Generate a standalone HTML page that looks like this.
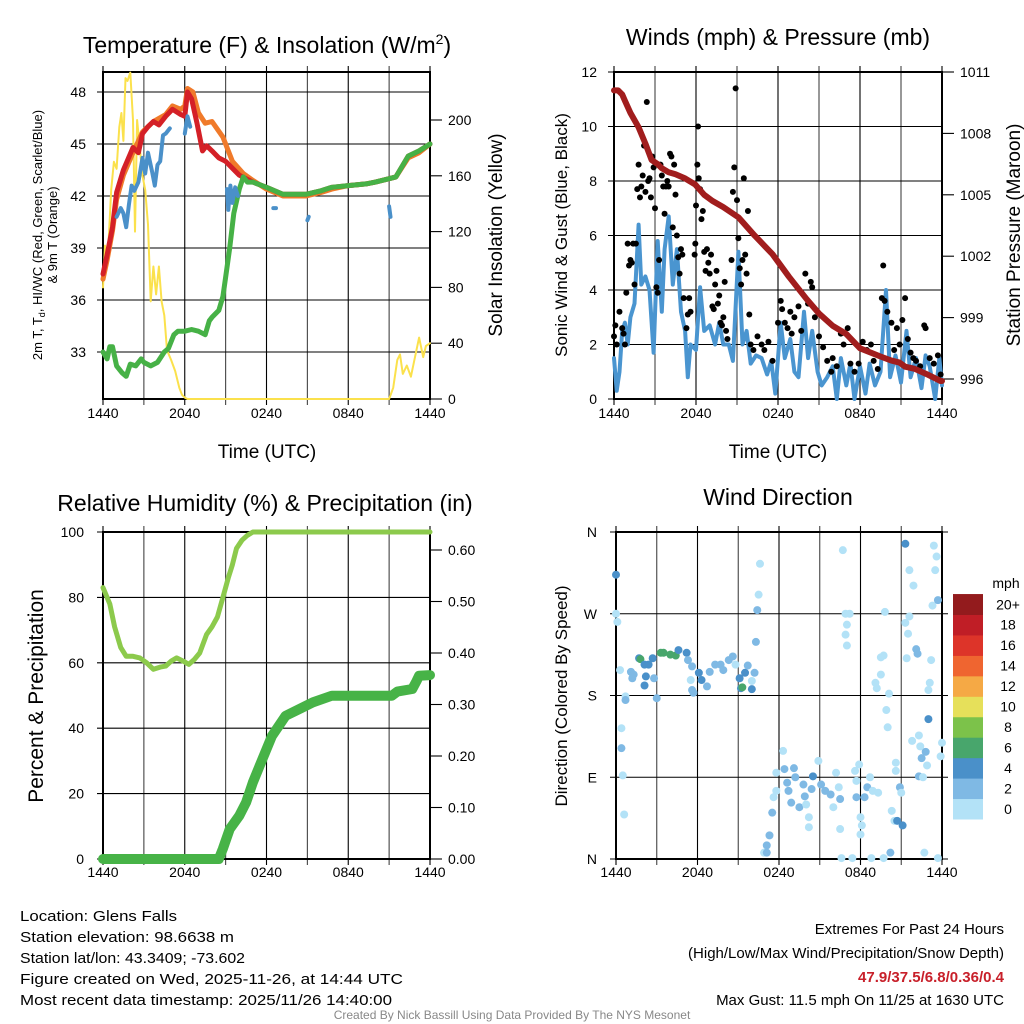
<!DOCTYPE html>
<html><head><meta charset="utf-8"><style>
html,body{margin:0;padding:0;background:#fff;}
svg{display:block;font-family:"Liberation Sans",Arial,sans-serif;}
</style></head><body>
<svg id="chart" width="1024" height="1024" viewBox="0 0 1024 1024" xmlns="http://www.w3.org/2000/svg">
<rect x="0" y="0" width="1024" height="1024" fill="#fff"/>
<text x="267" y="53" font-size="23" text-anchor="middle">Temperature (F) &amp; Insolation (W/m<tspan font-size="14" dy="-9">2</tspan><tspan dy="9">)</tspan></text>
<text x="778" y="45" font-size="23" text-anchor="middle">Winds (mph) &amp; Pressure (mb)</text>
<text x="265" y="511" font-size="23" text-anchor="middle">Relative Humidity (%) &amp; Precipitation (in)</text>
<text x="778" y="505" font-size="23" text-anchor="middle">Wind Direction</text>
<text x="267" y="458" font-size="19" text-anchor="middle">Time (UTC)</text>
<text x="778" y="458" font-size="19" text-anchor="middle">Time (UTC)</text>
<text transform="translate(42,235) rotate(-90)" font-size="13" text-anchor="middle">2m T, T<tspan font-size="9" dy="3">d</tspan><tspan dy="-3">, HI/WC (Red, Green, Scarlet/Blue)</tspan></text>
<text transform="translate(57,235) rotate(-90)" font-size="13" text-anchor="middle">&amp; 9m T (Orange)</text>
<text transform="translate(502,235) rotate(-90)" font-size="19" text-anchor="middle">Solar Insolation (Yellow)</text>
<text transform="translate(567,235) rotate(-90)" font-size="17" text-anchor="middle">Sonic Wind &amp; Gust (Blue, Black)</text>
<text transform="translate(1020,235) rotate(-90)" font-size="19" text-anchor="middle">Station Pressure (Maroon)</text>
<text transform="translate(43,696) rotate(-90)" font-size="21" text-anchor="middle">Percent &amp; Precipitation</text>
<text transform="translate(567,696) rotate(-90)" font-size="17" text-anchor="middle">Direction (Colored By Speed)</text>
<g font-size="15">
<text x="20" y="921" textLength="157" lengthAdjust="spacingAndGlyphs">Location: Glens Falls</text>
<text x="20" y="942" textLength="214" lengthAdjust="spacingAndGlyphs">Station elevation: 98.6638 m</text>
<text x="20" y="963" textLength="225" lengthAdjust="spacingAndGlyphs">Station lat/lon: 43.3409; -73.602</text>
<text x="20" y="984" textLength="383" lengthAdjust="spacingAndGlyphs">Figure created on Wed, 2025-11-26, at 14:44 UTC</text>
<text x="20" y="1005" textLength="372" lengthAdjust="spacingAndGlyphs">Most recent data timestamp: 2025/11/26 14:40:00</text>
</g>
<g font-size="15" text-anchor="end">
<text x="1004" y="934">Extremes For Past 24 Hours</text>
<text x="1004" y="958">(High/Low/Max Wind/Precipitation/Snow Depth)</text>
<text x="1004" y="982" fill="#c8202a" font-weight="bold">47.9/37.5/6.8/0.36/0.4</text>
<text x="1004" y="1005">Max Gust: 11.5 mph On 11/25 at 1630 UTC</text>
</g>
<text x="512" y="1019" font-size="12" fill="#888" text-anchor="middle">Created By Nick Bassill Using Data Provided By The NYS Mesonet</text>
</svg>
<script>
// ---------- data ----------
const xTickLabels = ["1440","2040","0240","0840","1440"];
const tempLeftTicks = [33,36,39,42,45,48];
const insolTicks = [0,40,80,120,160,200];
const windTicks = [0,2,4,6,8,10,12];
const pressTicks = [996,999,1002,1005,1008,1011];
const rhTicks = [0,20,40,60,80,100];
const precipTicks = [0.00,0.10,0.20,0.30,0.40,0.50,0.60];
const dirTicks = [0,90,180,270,360];
const dirTickLabels = ["N","E","S","W","N"];
const speedBinLabels = ["0","2","4","6","8","10","12","14","16","18","20+"];
const speedBinColors = ["#b3e2f7","#7fb9e4","#4a90c9","#48a66c","#7cc24a","#e6e05a","#f5a945","#ef6530","#dd3429","#c01e26","#931b1d"];

const tempT = [0,0.3,0.7,1.0,1.5,2.2,2.6,2.9,3.3,3.7,4.1,4.6,5.1,5.7,6.0,6.2,6.5,6.9,7.3,7.6,8.0,8.5,9.0,9.5,10,10.5,11,12,13.2,14.9,16,16.8,18,19.3,20,21,21.5,22.4,23.2,24];
const tempV = [37.5,38.6,40.2,42.2,43.5,44.8,44.5,45.6,46.0,46.3,46.1,46.6,47.0,46.7,46.6,48.0,47.6,46.2,44.6,44.9,44.6,44.2,44.0,43.6,43.2,43.0,42.8,42.5,42.1,42.1,42.3,42.5,42.6,42.7,42.8,43.0,43.1,44.3,44.6,45.0];
const t9mT = [0,0.3,0.7,1.0,1.5,2.2,2.9,3.7,4.6,5.1,5.7,6.0,6.2,6.6,7.0,7.5,8.0,8.8,9.5,10.3,11,12,13.2,14.9,16,16.8,18,19.3,20,21,21.5,22.4,23.2,24];
const t9mV = [37.2,38.3,40.0,41.8,43.2,44.5,45.7,46.3,46.7,47.2,47.0,47.2,48.2,48.0,46.8,46.2,46.3,45.4,44.0,43.3,42.9,42.4,42.0,42.0,42.2,42.4,42.6,42.7,42.8,43.0,43.1,44.2,44.5,45.0];
const dewT = [0,0.3,0.5,0.7,1.0,1.4,1.7,2.0,2.4,2.8,3.0,3.5,4.0,4.5,4.8,5.2,5.5,6.0,6.5,7.0,7.5,7.8,8.0,8.5,8.8,9.0,9.3,9.6,10.0,10.3,10.6,11,12,13.2,14.9,16,16.8,18,19.3,20,21,21.5,22.4,23.2,24];
const dewV = [33.0,32.6,33.3,33.3,32.2,31.8,31.6,32.3,32.2,32.6,32.4,32.2,32.4,33.0,33.2,34.0,34.2,34.2,34.3,34.2,34.0,34.8,35.0,35.4,36.2,37.3,39.0,41.0,42.4,43.1,42.8,42.8,42.5,42.1,42.1,42.3,42.5,42.6,42.7,42.8,43.0,43.1,44.3,44.6,45.0];
const hiT = [1.0,1.3,1.5,1.7,1.9,2.1,2.3,2.6,2.9,3.1,3.3,3.6,3.8,4.0,4.2,4.4,4.6,4.9,null,6.0,6.2,6.3,6.4,null,9.1,9.2,9.35,9.5,9.7,9.9,null,12.5,12.7,null,15.0,15.1,null,21.0,21.1];
const hiV = [40.8,41.3,41.0,40.2,41.5,42.6,42.3,42.8,44.2,43.3,44.5,43.4,42.6,43.8,44.0,45.5,45.6,45.9,null,45.6,46.6,46.3,46.0,null,42.4,41.2,42.6,41.6,42.5,42.0,null,41.3,41.3,null,40.6,40.8,null,41.4,40.8];
const insolT = [0,0.15,0.3,0.45,0.6,0.8,1.0,1.2,1.35,1.5,1.65,1.8,2.0,2.2,2.35,2.5,2.7,2.9,3.1,3.3,3.5,3.7,3.9,4.1,4.3,4.5,4.7,5.0,5.3,5.6,5.8,6.0,6.2,6.5,21,21.3,21.6,21.8,22.0,22.3,22.6,22.9,23.2,23.5,23.7,24];
const insolV = [80,110,95,120,150,170,165,195,205,185,230,228,234,200,120,200,180,160,150,125,70,95,75,95,70,60,35,28,20,8,3,1,0,0,0,8,28,32,18,24,16,30,44,30,38,40];
const windT = [0,0.2,0.4,0.6,0.8,1.0,1.2,1.5,1.8,2.0,2.3,2.6,2.9,3.2,3.5,3.7,4.0,4.3,4.6,4.9,5.2,5.4,5.6,6.0,6.3,6.6,7.0,7.4,7.7,8.0,8.4,8.7,9.1,9.4,9.7,10.0,10.4,10.8,11.2,11.5,11.8,12.2,12.5,12.9,13.2,13.5,13.9,14.2,14.5,14.9,15.2,15.6,16.0,16.3,16.6,17.0,17.3,17.6,18.0,18.4,18.7,19.1,19.5,19.9,20.2,20.6,21.0,21.4,21.7,22.1,22.5,22.8,23.1,23.5,23.8,24];
const windV = [1.5,0.3,1.0,2.5,2.8,2.0,3.0,3.5,6.4,4.2,4.5,4.0,1.7,5.8,3.2,5.5,6.7,4.2,5.5,3.2,2.5,0.8,2.0,1.8,4.1,2.5,2.7,2.0,2.8,2.0,2.0,1.4,5.4,2.0,2.5,1.3,1.6,1.5,0.9,1.4,0.2,2.8,1.5,2.2,1.0,0.8,3.2,1.5,2.5,1.0,0.5,0.8,1.2,0.0,1.5,0.5,1.3,0.0,1.2,0.2,1.3,0.5,1.0,4.0,0.8,1.6,0.6,2.5,0.8,1.5,0.4,1.6,1.2,0.0,1.5,0.5];
const gustT = [0.0,0.1,0.2,0.4,0.6,0.7,0.8,0.9,1.0,1.1,1.2,1.3,1.4,1.5,1.6,1.7,1.8,1.9,2.0,2.1,2.2,2.3,2.4,2.5,2.6,2.7,2.8,2.9,3.0,3.1,3.2,3.3,3.4,3.5,3.6,3.7,3.8,3.9,4.0,4.1,4.2,4.3,4.4,4.5,4.6,4.7,4.8,4.9,5.0,5.1,5.3,5.4,5.5,5.6,5.9,5.95,6.0,6.1,6.15,6.2,6.3,6.4,6.5,6.6,6.7,6.8,6.9,7.0,7.1,7.2,7.3,7.4,7.5,7.6,7.7,7.8,7.9,8.0,8.1,8.2,8.3,8.6,8.7,8.8,8.9,9.0,9.1,9.2,9.3,9.4,9.5,9.6,9.7,9.8,9.9,10.0,10.2,10.5,10.8,11.0,11.3,11.6,12.0,12.2,12.3,12.5,12.7,12.9,13.0,13.2,13.5,13.7,14.0,14.2,14.4,14.5,14.7,15.0,15.3,15.6,15.9,16.0,16.3,16.6,16.8,17.1,17.3,17.6,17.9,18.2,18.5,18.8,19.0,19.3,19.6,19.7,19.8,20.0,20.3,20.5,20.7,20.9,21.1,21.3,21.5,21.7,21.9,22.1,22.4,22.7,22.8,23.1,23.4,23.7,23.9];
const gustV = [2.3,2.7,2.0,3.2,2.6,2.4,2.0,3.9,5.7,4.9,5.1,5.0,5.7,4.2,5.7,7.7,8.6,7.4,7.8,8.2,9.3,7.6,10.9,8.0,8.1,7.4,8.9,8.5,7.0,4.1,3.9,5.1,8.6,8.2,7.8,6.8,7.8,8.0,7.8,9.0,8.9,6.3,8.6,7.5,6.0,5.2,4.6,5.5,5.3,3.7,2.6,3.1,3.7,3.2,5.3,5.7,7.1,8.6,10.0,8.1,7.7,6.6,6.9,5.4,4.7,5.5,5.0,4.6,5.3,3.4,3.3,4.2,4.7,3.5,3.8,2.8,2.7,3.0,4.3,2.5,2.2,5.1,7.6,8.5,11.4,7.3,5.9,4.8,4.2,5.1,8.1,5.3,4.6,6.9,3.1,2.0,1.8,2.3,2.0,1.8,2.1,1.4,2.8,3.6,3.3,2.8,2.6,3.2,2.4,3.0,3.4,2.5,4.6,3.5,4.3,4.1,3.0,2.3,1.9,1.4,1.0,1.5,1.2,2.4,2.0,2.6,1.3,1.0,1.3,2.1,1.8,2.0,1.4,1.1,3.7,4.9,3.6,3.2,2.8,1.8,2.6,2.0,2.9,3.7,2.2,1.7,1.5,1.4,1.2,2.7,2.6,1.5,1.3,1.6,0.9];
const pressT = [0,0.3,0.6,0.8,1.2,1.8,2.3,2.75,3.2,3.5,4.0,4.5,5.2,5.95,6.6,7.2,8.0,9.1,10.3,11.6,12.8,14.1,15.0,16.0,17.0,18.0,19.5,20.3,20.9,21.3,22.0,23.0,23.9,24];
const pressV = [1010.1,1010.1,1009.9,1009.6,1009.0,1008.3,1007.5,1006.7,1006.5,1006.3,1006.1,1006.0,1005.8,1005.5,1005.0,1004.7,1004.4,1003.9,1003.0,1002.1,1001.0,999.9,999.2,998.6,998.2,997.5,997.1,996.9,996.8,996.6,996.5,996.2,995.9,995.9];
const rhT = [0,0.5,0.85,1.3,1.7,2.2,2.7,3.2,3.7,4.2,4.6,5.0,5.4,5.9,6.3,6.7,7.1,7.6,8.0,8.4,8.8,9.2,9.5,9.8,10.2,10.6,11,24];
const rhV = [83,78,71,64.7,62,62,61.5,60,58,58.7,59,60.5,61.5,60.5,59.5,61,63,68.7,71,74,80,86,90,95,97.5,99,100,100];
const precipT = [0,8.5,8.8,9.3,10,10.5,11,11.7,12.4,13.4,14.4,15.4,16.8,18,19,20,21.2,21.6,22.7,23.0,23.2,24];
const precipV = [0,0,0.02,0.058,0.084,0.11,0.149,0.194,0.239,0.278,0.291,0.304,0.317,0.317,0.317,0.317,0.317,0.325,0.33,0.345,0.356,0.357];
const dirT = [0,0,0.1,0.3,0.7,0.7,0.4,0.4,0.5,0.6,1.1,1.2,1.3,1.7,1.8,2.1,2.2,2.1,2.4,2.7,2.8,3.0,3.3,3.5,4.0,4.4,4.6,5.2,5.3,5.6,5.5,5.6,5.7,6.1,6.3,6.7,6.9,7.3,7.7,7.9,8.3,8.6,8.8,9.1,9.2,9.3,9.5,9.7,10.0,10.2,10.0,10.3,10.4,10.5,10.6,11.8,11.6,11.5,11.3,11.1,10.9,11.1,
12.3,12.4,13.1,11.8,12.6,13.2,12.7,12.9,13.5,13.8,13.9,14.0,14.2,14.2,14.5,14.4,14.9,15.1,15.4,15.8,16.0,16.2,16.4,16.5,16.5,16.6,16.7,16.9,17.2,17.0,16.9,17.0,17.4,17.6,17.7,17.9,17.7,18.0,18.1,18.0,18.3,18.5,18.7,18.9,19.3,18.8,19.7,19.8,19.5,19.7,19.5,19.1,19.2,20.1,19.9,20.0,20.3,20.2,20.5,20.6,20.6,20.9,21.0,21.1,20.7,21.3,21.6,21.3,21.5,21.4,22.1,22.2,21.9,21.6,21.8,22.3,22.4,22.5,22.8,22.9,22.3,22.6,22.7,23.0,23.0,23.1,23.2,23.3,23.4,23.6,23.5,23.7,24.0,23.9,23.7];
const dirV = [313,270,261,208,179,175,144,122,92,49,206,199,203,221,220,214,201,191,214,221,199,177,227,227,225,224,230,227,219,212,197,186,183,205,197,190,206,214,214,208,219,223,214,199,188,189,205,213,187,205,196,239,274,291,325,95,68,51,26,15,7,7,
119,99,100,75,84,90,75,62,57,82,69,60,46,35,91,77,108,82,75,71,57,95,79,66,33,1,340,270,270,258,247,235,1,97,86,104,68,46,37,27,68,79,90,75,73,1,1,272,222,224,203,194,188,182,164,145,53,7,42,106,97,79,73,37,42,347,267,260,248,221,231,226,301,318,130,136,124,111,118,103,91,90,7,154,186,194,219,279,345,333,318,285,128,113,1];
const dirS = [5,1,1,1,1,3,1,3,1,1,3,3,3,5,7,5,5,5,5,5,3,3,7,7,7,7,5,5,3,3,1,3,3,5,5,3,3,3,3,3,3,3,1,5,5,7,5,3,5,3,1,3,3,1,1,1,1,3,3,3,1,3,
1,3,3,1,3,3,3,3,3,3,3,1,1,1,5,3,1,3,3,3,1,1,1,3,1,1,1,1,1,1,1,1,1,1,1,1,3,1,1,1,3,3,1,1,1,1,1,1,1,1,1,1,1,1,1,1,1,3,1,1,1,3,1,5,5,5,1,1,1,1,3,3,1,1,1,1,1,3,3,1,3,1,1,5,1,1,1,1,1,1,1,3,1,1,1,1];

// ---------- helpers ----------
const svg = document.getElementById('chart');
const NS = 'http://www.w3.org/2000/svg';
function mk(tag, attrs, parent) {
  const e = document.createElementNS(NS, tag);
  for (const k in attrs) e.setAttribute(k, attrs[k]);
  (parent || svg).appendChild(e);
  return e;
}
function lin(d0, d1, r0, r1) { return v => r0 + (v - d0) * (r1 - r0) / (d1 - d0); }
function pathD(ts, vs, xs, ys) {
  let d = '', pen = false;
  for (let i = 0; i < ts.length; i++) {
    if (ts[i] === null || vs[i] === null) { pen = false; continue; }
    d += (pen ? 'L' : 'M') + xs(ts[i]).toFixed(1) + ',' + ys(vs[i]).toFixed(1);
    pen = true;
  }
  return d;
}

function panel(name, X0, X1, Y0, Y1, leftTicks, ysL, leftLabels, leftX, rightTicks, ysR, rightLabels, rightX, xLabY) {
  const g = mk('g', {});
  
  
  const xs = lin(0, 24, X0, X1);
  for (let h = 0; h <= 24; h += 3) {
    const x = xs(h);
    const gl = mk('line', {x1: x, x2: x, y1: Y0 - 6, y2: Y1 + 6, stroke: (h % 6 === 0) ? '#000' : '#444', 'stroke-width': 1.1}, g);
    
    
  }
  for (let i = 0; i < xTickLabels.length; i++) {
    const t = mk('text', {x: xs(i * 6), y: xLabY, 'font-size': 14, 'text-anchor': 'middle'}, g);
    t.textContent = xTickLabels[i];
    
    
  }
  for (let i = 0; i < leftTicks.length; i++) {
    const y = ysL(leftTicks[i]);
    const gl = mk('line', {x1: X0 - 6, x2: X1 + (rightTicks ? 0 : 6), y1: y, y2: y, stroke: '#000', 'stroke-width': 1.1}, g);
    
    
    const t = mk('text', {x: leftX, y: y + 5, 'font-size': 14, 'text-anchor': 'end'}, g);
    t.textContent = leftLabels[i];
    
    
  }
  if (rightTicks) {
    for (let i = 0; i < rightTicks.length; i++) {
      const y = ysR(rightTicks[i]);
      const tk = mk('line', {x1: X1, x2: X1 + 12, y1: y, y2: y, stroke: '#000', 'stroke-width': 1.1}, g);
      
      
      const t = mk('text', {x: rightX, y: y + 5, 'font-size': 14, 'text-anchor': 'start'}, g);
      t.textContent = rightLabels[i];
      
      
    }
  }
  const fr = mk('rect', {x: X0, y: Y0, width: X1 - X0, height: Y1 - Y0, fill: 'none', stroke: '#000', 'stroke-width': 2}, g);
  
  
  return xs;
}
function line(name, ts, vs, xs, ys, color, w) {
  const p = mk('path', {d: pathD(ts, vs, xs, ys), fill: 'none', stroke: color, 'stroke-width': w, 'stroke-linejoin': 'round', 'stroke-linecap': 'round'});
  
  
  return p;
}

// ---------- Panel 1: temperature ----------
const ysT = lin(33, 48, 352, 92);
const ysI = lin(0, 200, 399, 120);
const xs1 = panel('temp', 103, 430, 72, 399, tempLeftTicks, ysT, tempLeftTicks.map(String), 86, insolTicks, ysI, insolTicks.map(String), 448, 418);
line('insolation-line', insolT, insolV, xs1, ysI, '#fbe14c', 2);
line('temp-9m-line', t9mT, t9mV, xs1, ysT, '#f07a2a', 5);
line('temp-2m-line', tempT, tempV, xs1, ysT, '#d42027', 5);
line('dewpoint-line', dewT, dewV, xs1, ysT, '#46b146', 5);
line('heat-index-line', hiT, hiV, xs1, ysT, '#4a90c9', 4);

// ---------- Panel 2: winds ----------
const ysW = lin(0, 12, 399, 72);
const ysP = lin(996, 1011, 379, 72);
const xs2 = panel('wind', 614, 942, 72, 399, windTicks, ysW, windTicks.map(String), 597, pressTicks, ysP, pressTicks.map(String), 960, 418);
line('wind-speed-line', windT, windV, xs2, ysW, '#4a95d0', 4);
for (let i = 0; i < gustT.length; i++) {
  const c = mk('circle', {cx: xs2(gustT[i]), cy: ysW(gustV[i]), r: 3, fill: '#000'});
  
  
}
line('pressure-line', pressT, pressV, xs2, ysP, '#a11d1d', 6);

// ---------- Panel 3: RH & precip ----------
const ysR = lin(0, 100, 859, 532);
const ysPr = lin(0, 0.6, 859, 550);
const xs3 = panel('rh', 103, 430, 532, 859, rhTicks, ysR, rhTicks.map(String), 84, precipTicks, ysPr, precipTicks.map(v => v.toFixed(2)), 448, 877);
line('rh-line', rhT, rhV, xs3, ysR, '#8cca4c', 5);
line('precip-line', precipT, precipV, xs3, ysPr, '#47b347', 10);

// ---------- Panel 4: wind direction ----------
const ysD = lin(0, 360, 859, 532);
const xs4 = panel('winddir', 616, 942, 532, 859, dirTicks, ysD, dirTickLabels, 597, null, null, null, 0, 877);
for (let i = 0; i < dirT.length; i++) {
  const bin = Math.min(10, Math.floor(dirS[i] / 2));
  const c = mk('circle', {cx: xs4(dirT[i]), cy: ysD(dirV[i]), r: 4, fill: speedBinColors[bin]});
  
  
}
// colorbar legend
const lg = mk('g', {});


const mt = mk('text', {x: 1006, y: 588, 'font-size': 14, 'text-anchor': 'middle'}, lg);
mt.textContent = 'mph';


const boxH = 20.45;
for (let i = 0; i < speedBinColors.length; i++) {
  const y = 819 - (i + 1) * boxH;
  const r = mk('rect', {x: 953, y: y, width: 30, height: boxH + 0.5, fill: speedBinColors[i]}, lg);
  
  
  const t = mk('text', {x: 1008, y: y + boxH / 2 + 5, 'font-size': 14, 'text-anchor': 'middle'}, lg);
  t.textContent = speedBinLabels[i];
  
  
}
</script>
</body></html>
